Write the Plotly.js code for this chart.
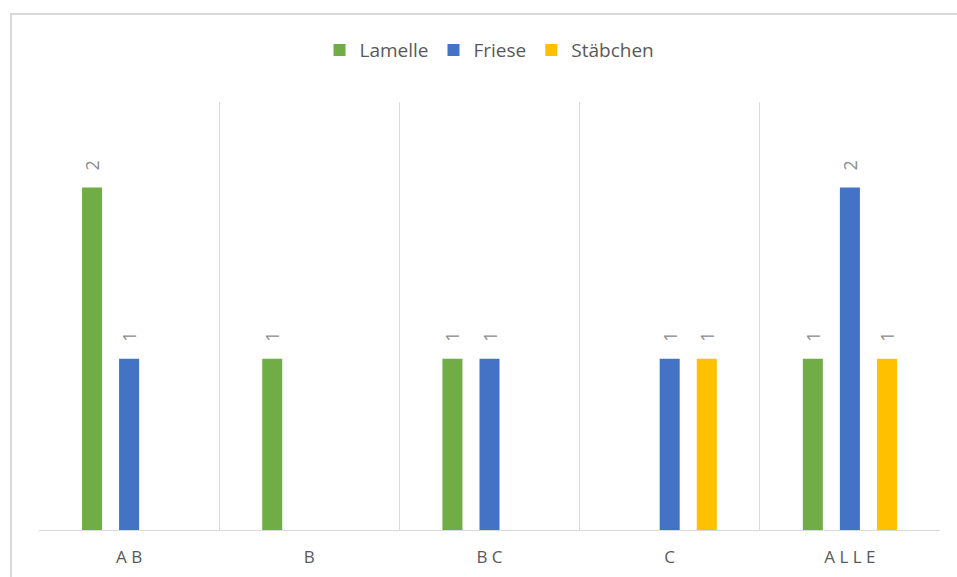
<!DOCTYPE html>
<html>
<head>
<meta charset="utf-8">
<script src="https://cdn.plot.ly/plotly-3.0.1.min.js"></script>
<style>
  html, body { margin: 0; padding: 0; background: #ffffff; }
  #frame {
    position: absolute; left: 10px; top: 13px; right: 0; bottom: 0;
    border-left: 2px solid #d9d9d9; border-top: 2px solid #d9d9d9;
    pointer-events: none;
  }
  #chart { width: 957px; height: 577px; }
</style>
</head>
<body>
<div id="chart"></div>
<div id="frame"></div>
<script>
// Categories and counts per series
const categories = ["A B", "B", "B C", "C", "A L L E"];
const lamelle  = [2, 1, 1, null, 1];
const friese   = [1, null, 1, 1, 2];
const staebchen = [null, null, null, 1, 1];

const seriesNames = ["Lamelle", "Friese", "Stäbchen"];
const seriesColors = ["#70AD47", "#4472C4", "#FFC000"];
const seriesValues = [lamelle, friese, staebchen];

const FONT = "'Open Sans', Lato, sans-serif";
const GREY = "#595959";

const traces = seriesValues.map((vals, i) => ({
  type: "bar",
  name: seriesNames[i],
  x: categories,
  y: vals,
  marker: { color: seriesColors[i] },
  // leading non-breaking spaces lift the rotated value label off the bar top
  text: vals.map(v => v == null ? "" : "\u00a0\u00a0\u00a0" + v),
  textposition: "outside",
  textangle: -90,
  constraintext: "none",
  textfont: { family: FONT, size: 18, color: "#8c8c8c" },
  cliponaxis: false,
  hoverinfo: "x+y+name"
}));

const layout = {
  width: 957,
  height: 577,
  margin: { l: 39, r: 17, t: 102, b: 47 },
  paper_bgcolor: "#ffffff",
  plot_bgcolor: "#ffffff",
  font: { family: FONT, color: GREY },
  barmode: "group",
  bargap: 0.383,
  bargroupgap: 0.46,
  showlegend: true,
  legend: {
    orientation: "h",
    x: 0.5, xanchor: "center",
    y: 1.121, yanchor: "middle",
    font: { family: FONT, size: 19, color: GREY },
    itemclick: false
  },
  xaxis: {
    type: "category",
    tickson: "boundaries",
    showgrid: true,
    gridcolor: "#d9d9d9",
    gridwidth: 1,
    showline: true,
    linecolor: "#d9d9d9",
    linewidth: 1,
    ticks: "",
    ticklabelstandoff: 12,
    tickfont: { family: FONT, size: 17, color: GREY },
    zeroline: false
  },
  yaxis: {
    range: [0, 2.5],
    showgrid: false,
    showticklabels: false,
    zeroline: false,
    showline: false,
    ticks: ""
  }
};

Plotly.newPlot("chart", traces, layout, { displayModeBar: false, staticPlot: true });
</script>
</body>
</html>
